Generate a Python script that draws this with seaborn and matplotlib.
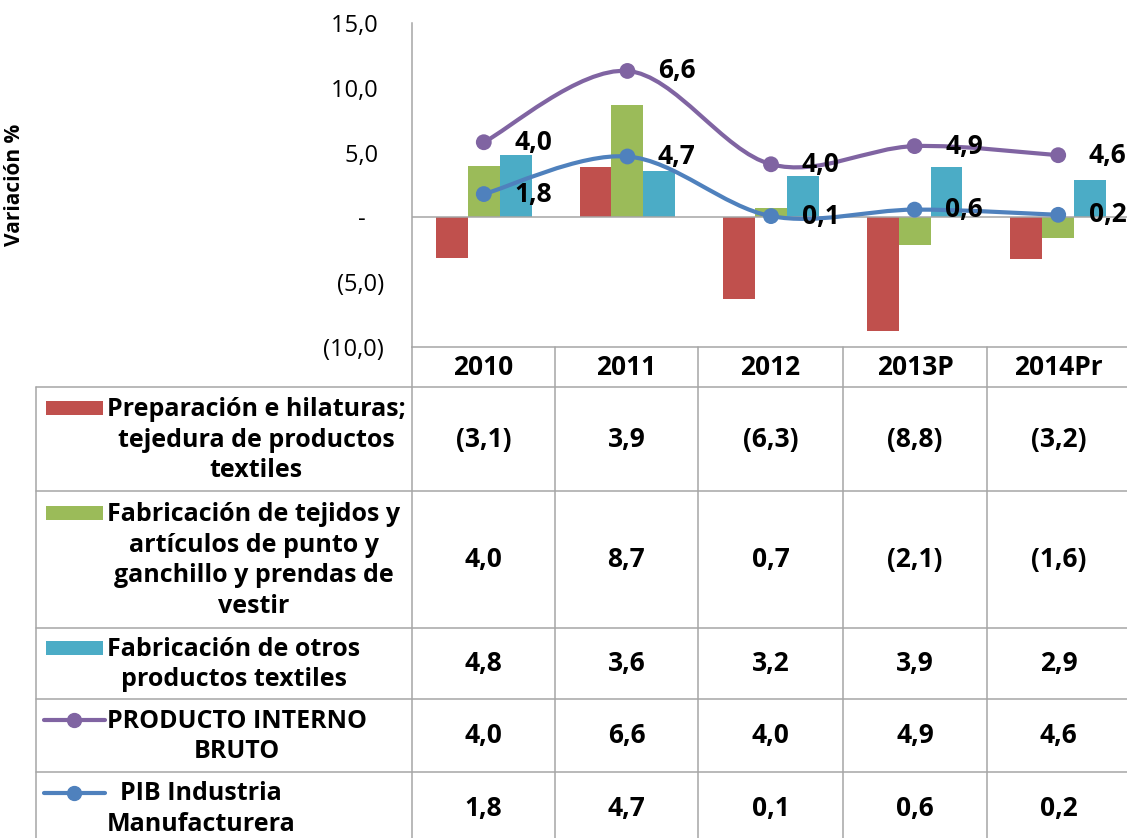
import numpy as np
import pandas as pd
import matplotlib
matplotlib.use("Agg")
import matplotlib.pyplot as plt
from matplotlib.path import Path
from matplotlib.patches import PathPatch, Rectangle
import seaborn as sns

# ---------------- data ----------------
categories = ["2010", "2011", "2012", "2013P", "2014Pr"]
preparacion = [-3.1, 3.9, -6.3, -8.8, -3.2]
tejidos = [4.0, 8.7, 0.7, -2.1, -1.6]
otros = [4.8, 3.6, 3.2, 3.9, 2.9]
pib = [4.0, 6.6, 4.0, 4.9, 4.6]
pib_ind = [1.8, 4.7, 0.1, 0.6, 0.2]

series_names = [
    "Preparación e hilaturas;\ntejedura de productos\ntextiles",
    "Fabricación de tejidos y\nartículos de punto y\nganchillo y prendas de\nvestir",
    "Fabricación de otros\nproductos textiles",
    "PRODUCTO INTERNO\nBRUTO",
    "PIB Industria\nManufacturera",
]
ytick_values = [-10, -5, 0, 5, 10, 15]
ytick_labels = ["(10,0)", "(5,0)", "-", "5,0", "10,0", "15,0"]
ylabel = "Variación %"

colors = ["#C0504D", "#9BBB59", "#4BACC6", "#8064A2", "#4F81BD"]
GRID = "#A6A6A6"
FS_TXT = 18
FS_NUM = 19

# ---------------- setup ----------------
sns.set_style("white")
plt.rcParams["font.family"] = ["Open Sans", "DejaVu Sans"]
for k in ["text.color", "axes.labelcolor", "xtick.color", "ytick.color"]:
    plt.rcParams[k] = "black"

W, H = 1127, 838
fig = plt.figure(figsize=(W / 100, H / 100), dpi=100)

# table / frame overlay in pixel coordinates
tab = fig.add_axes([0, 0, 1, 1])
tab.set_xlim(0, W)
tab.set_ylim(H, 0)
tab.axis("off")

x_left_axis = 412
x_right = 1130
y_top = 23
y_bottom = 347
ax = fig.add_axes([x_left_axis / W, 1 - y_bottom / H,
                   (x_right - x_left_axis) / W, (y_bottom - y_top) / H])
ax.patch.set_alpha(0)

# ---------------- bars ----------------
bar_series = series_names[:3]
df = pd.DataFrame({
    "cat": np.repeat(categories, 3),
    "serie": bar_series * len(categories),
    "value": np.ravel(np.column_stack([preparacion, tejidos, otros])),
})
sns.barplot(data=df, x="cat", y="value", hue="serie", order=categories,
            hue_order=bar_series, palette=colors[:3], saturation=1,
            width=0.667, legend=False, ax=ax, edgecolor="none")


# ---------------- smooth lines (Excel-style Bezier) ----------------
def smooth_path(xs, ys):
    pts = list(zip(xs, ys))
    n = len(pts)
    verts = [pts[0]]
    codes = [Path.MOVETO]
    for i in range(n - 1):
        p0 = pts[i - 1] if i > 0 else pts[i]
        p1 = pts[i]
        p2 = pts[i + 1]
        p3 = pts[i + 2] if i + 2 < n else pts[i + 1]
        c1 = (p1[0] + (p2[0] - p0[0]) / 6, p1[1] + (p2[1] - p0[1]) / 6)
        c2 = (p2[0] - (p3[0] - p1[0]) / 6, p2[1] - (p3[1] - p1[1]) / 6)
        verts += [c1, c2, p2]
        codes += [Path.CURVE4] * 3
    return Path(verts, codes)


xpos = np.arange(len(categories))
# stacked line chart: PIB is drawn on top of PIB Industria
y_ind = np.array(pib_ind)
y_pib = np.array(pib) + y_ind

for yv, lab, col in [(y_pib, pib, colors[3]), (y_ind, pib_ind, colors[4])]:
    ax.add_patch(PathPatch(smooth_path(xpos, yv), facecolor="none",
                           edgecolor=col, lw=3.0, zorder=4, capstyle="round"))
    sns.scatterplot(x=xpos, y=yv, color=col, s=130, edgecolor="none",
                    zorder=5, ax=ax, legend=False)
    for xi, yi, v in zip(xpos, yv, lab):
        ax.annotate(f"{v:.1f}".replace(".", ","), (xi, yi),
                    xytext=(22, 0), textcoords="offset points",
                    ha="left", va="center", fontsize=FS_NUM,
                    fontweight="bold", color="black", zorder=6)

ax.axhline(0, color=GRID, lw=1.1, zorder=1)
ax.set_xlim(-0.5, len(categories) - 0.5)
ax.set_ylim(-10, 15)
ax.set_yticks(ytick_values)
# accounting-style alignment: positives leave room for ")", dash is centred
aligned = [t if t.startswith("(") else (t + "   " if t == "-" else t + " ")
           for t in ytick_labels]
ax.set_yticklabels(aligned, fontsize=17)
ax.tick_params(axis="y", length=0, pad=20)
ax.set_xticks([])
ax.set_xlabel("")
ax.set_ylabel(ylabel, fontsize=15, fontweight="bold")
ax.yaxis.set_label_coords((25 - x_left_axis) / (x_right - x_left_axis), 0.5)
for s in ["top", "right", "bottom"]:
    ax.spines[s].set_visible(False)
ax.spines["left"].set_color(GRID)
ax.spines["left"].set_linewidth(1.1)

# ---------------- data table ----------------
col_edges = [412, 555, 698, 843, 987, 1130]
row_edges = [387, 491, 628, 699, 772, 844]
y_head_top = 347
x_table_left = 36

lw = 1.1
tab.plot([col_edges[0], col_edges[-1]], [y_head_top, y_head_top], color=GRID, lw=lw)
for xe in col_edges[1:-1]:
    tab.plot([xe, xe], [y_head_top, H], color=GRID, lw=lw)
tab.plot([x_left_axis, x_left_axis], [y_bottom, H], color=GRID, lw=lw)
tab.plot([x_table_left, x_table_left], [row_edges[0], H], color=GRID, lw=lw)
for ye in row_edges[:-1]:
    tab.plot([x_table_left, col_edges[-1]], [ye, ye], color=GRID, lw=lw)

col_centers = [(a + b) / 2 for a, b in zip(col_edges[:-1], col_edges[1:])]
for cx, c in zip(col_centers, categories):
    tab.text(cx, (y_head_top + row_edges[0]) / 2, c, ha="center", va="center",
             fontsize=FS_NUM, fontweight="bold")


def fmt(v):
    s = f"{abs(v):.1f}".replace(".", ",")
    return f"({s})" if v < 0 else s


rows = [preparacion, tejidos, otros, pib, pib_ind]
line_h = 31
for r, (vals, name, col) in enumerate(zip(rows, series_names, colors)):
    y0, y1 = row_edges[r], row_edges[r + 1]
    yc = (y0 + y1) / 2
    nlines = name.count("\n") + 1
    first_line_y = yc - (nlines - 1) * line_h / 2
    tab.text(107, yc + 1, name, ha="left", va="center", multialignment="center",
             fontsize=FS_TXT, fontweight="bold", linespacing=1.3)
    if r < 3:
        tab.add_patch(Rectangle((46, first_line_y - 7), 57, 14, facecolor=col,
                                edgecolor="none"))
    else:
        tab.plot([44, 105], [first_line_y, first_line_y], color=col, lw=3.0,
                 solid_capstyle="round")
        tab.plot([74], [first_line_y], "o", color=col, ms=10)
    for cx, v in zip(col_centers, vals):
        tab.text(cx, yc, fmt(v), ha="center", va="center", fontsize=FS_NUM,
                 fontweight="bold")

fig.savefig("out.png", dpi=100)
